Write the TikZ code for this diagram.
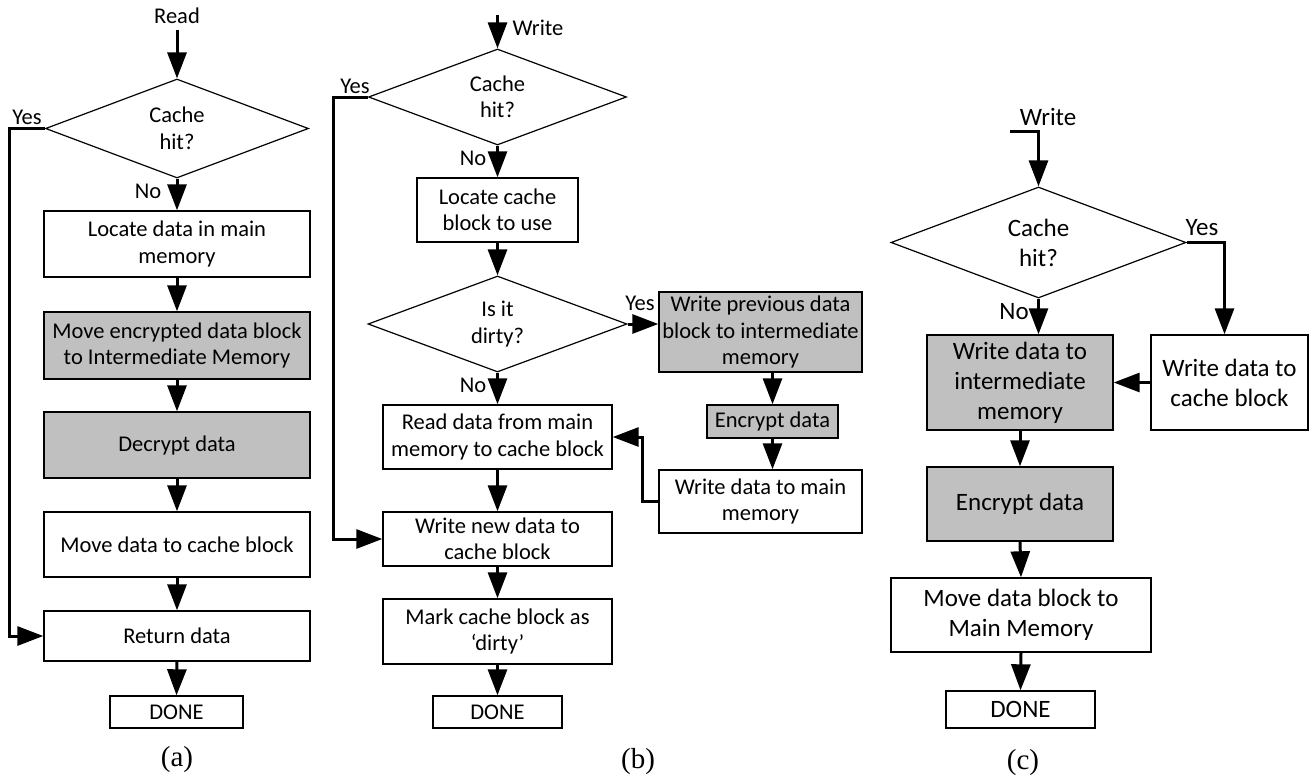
\documentclass[tikz,border=0pt]{standalone}
\usepackage{fontspec}
\setmainfont{Carlito}
\newfontfamily\capfont{Liberation Serif}
\usetikzlibrary{arrows.meta,shapes.geometric}
\definecolor{boxgray}{HTML}{C0C0C0}
\tikzset{
  txtA/.style={font=\fontsize{22.5}{26.5}\selectfont},
  txtC/.style={font=\fontsize{25}{30}\selectfont},
  box/.style={draw, line width=1.4pt, align=center, inner sep=0pt, fill=white},
  graybox/.style={box, fill=boxgray},
  dec/.style={draw, diamond, line width=1.2pt, inner sep=0pt, aspect=2.6, align=center},
  arr/.style={line width=3pt, -{Triangle[length=26pt,width=19pt]}},
  seg/.style={line width=3pt},
  lab/.style={inner sep=0pt},
  capt/.style={font=\capfont\fontsize{29}{32}\selectfont, inner sep=0pt}
}
\begin{document}
\begin{tikzpicture}[x=1pt,y=-1pt]
\useasboundingbox (0,0) rectangle (1312,779);

% ---------------- (a) ----------------
\begin{scope}[txtA]
\node[lab] (readlbl) at (177,16) {Read};
\coordinate (astart) at (177,30);
\node[dec, minimum width=263pt, minimum height=99pt] (dA) at (177,128.5) {Cache\\hit?};
\node[box, minimum width=266pt, minimum height=66pt] (a1) at (177,244) {Locate data in main\\memory};
\node[graybox, minimum width=266pt, minimum height=67pt] (a2) at (177,345.5) {Move encrypted data block\\to Intermediate Memory};
\node[graybox, minimum width=266pt, minimum height=66pt] (a3) at (177,445) {Decrypt data};
\node[box, minimum width=266pt, minimum height=65pt] (a4) at (177,544.5) {Move data to cache block};
\node[box, minimum width=266pt, minimum height=50pt] (a5) at (177,636) {Return data};
\node[box, minimum width=133pt, minimum height=32pt] (a6) at (176.5,712) {DONE};
\node[lab] (ayes) at (27,117) {Yes};
\node[lab] (ano) at (148,191) {No};
\end{scope}
\draw[arr] (astart) -- (dA.north);
\draw[arr] (dA.south) -- (a1.north);
\draw[arr] (a1.south) -- (a2.north);
\draw[arr] (a2.south) -- (a3.north);
\draw[arr] (a3.south) -- (a4.north);
\draw[arr] (a4.south) -- (a5.north);
\draw[arr] (a5.south) -- (a6.north);
\draw[arr] (dA.west) -- ++(-35,0) |- (a5.west);
\node[capt] (capa) at (177,760) {(a)};

% ---------------- (b) ----------------
\begin{scope}[txtA]
\coordinate (bstart) at (497.5,15);
\node[lab] (writeb) at (538,28) {Write};
\node[dec, minimum width=258pt, minimum height=96pt] (dB1) at (497.5,97) {Cache\\hit?};
\node[box, minimum width=161pt, minimum height=64pt] (b1) at (497.5,210) {Locate cache\\block to use};
\node[dec, minimum width=259pt, minimum height=96pt] (dB2) at (497.5,324) {Is it\\dirty?};
\node[graybox, minimum width=203pt, minimum height=80pt] (b2) at (760.5,332) {Write previous data\\block to intermediate\\memory};
\node[graybox, minimum width=131pt, minimum height=33pt] (b3) at (772.5,421.5) {Encrypt data};
\node[box, minimum width=203pt, minimum height=63pt] (b4) at (760.5,501.5) {Write data to main\\memory};
\node[box, minimum width=229pt, minimum height=64pt] (b5) at (497.5,437) {Read data from main\\memory to cache block};
\node[box, minimum width=229pt, minimum height=54pt] (b6) at (497.5,539) {Write new data to\\cache block};
\node[box, minimum width=229pt, minimum height=65pt] (b7) at (497.5,631.5) {Mark cache block as\\‘dirty’};
\node[box, minimum width=129pt, minimum height=32pt] (b8) at (497.5,712) {DONE};
\node[lab] (byes1) at (355,86) {Yes};
\node[lab] (bno1) at (473,158) {No};
\node[lab] (byes2) at (640,303) {Yes};
\node[lab] (bno2) at (473,385) {No};
\end{scope}
\draw[arr] (bstart) -- (dB1.north);
\draw[arr] (dB1.south) -- (b1.north);
\draw[arr] (b1.south) -- (dB2.north);
\draw[arr] (dB2.east) -- (dB2.east -| b2.west);
\draw[arr] (b2.south -| b3.north) -- (b3.north);
\draw[arr] (b3.south) -- (b3.south |- b4.north);
\draw[arr] (b4.west) -- ++(-16,0) |- (b5.east);
\draw[arr] (dB2.south) -- (b5.north);
\draw[arr] (b5.south) -- (b6.north);
\draw[arr] (b6.south) -- (b7.north);
\draw[arr] (b7.south) -- (b8.north);
\draw[arr] (dB1.west) -- ++(-34,0) |- (b6.west);
\node[capt] (capb) at (638,762) {(b)};

% ---------------- (c) ----------------
\begin{scope}[txtC]
\node[lab] (writec) at (1048,117) {Write};
\coordinate (cstart) at (1010,131);
\node[dec, minimum width=295pt, minimum height=111pt] (dC) at (1038.5,242.5) {Cache\\hit?};
\node[graybox, minimum width=186pt, minimum height=95pt] (c1) at (1020,382.5) {Write data to\\intermediate\\memory};
\node[box, minimum width=157pt, minimum height=95pt] (c2) at (1229.5,382.5) {Write data to\\cache block};
\node[graybox, minimum width=186pt, minimum height=74pt] (c3) at (1020,504) {Encrypt data};
\node[box, minimum width=260pt, minimum height=74pt] (c4) at (1021,615) {Move data block to\\Main Memory};
\node[box, minimum width=149pt, minimum height=37pt] (c5) at (1020.5,709.5) {DONE};
\node[lab] (cyes) at (1202,228) {Yes};
\node[lab] (cno) at (1014,312) {No};
\end{scope}
\draw[arr] (cstart) -- (cstart -| dC.north) -- (dC.north);
\draw[arr] (dC.east) -| ([xshift=-5pt]c2.north);
\draw[arr] (dC.south) -- (dC.south |- c1.north);
\draw[arr] (c2.west) -- (c1.east);
\draw[arr] (c1.south) -- (c3.north);
\draw[arr] (c3.south) -- (c4.north);
\draw[arr] (c4.south) -- (c5.north);
\node[capt] (capc) at (1023,763) {(c)};
\end{tikzpicture}
\end{document}
